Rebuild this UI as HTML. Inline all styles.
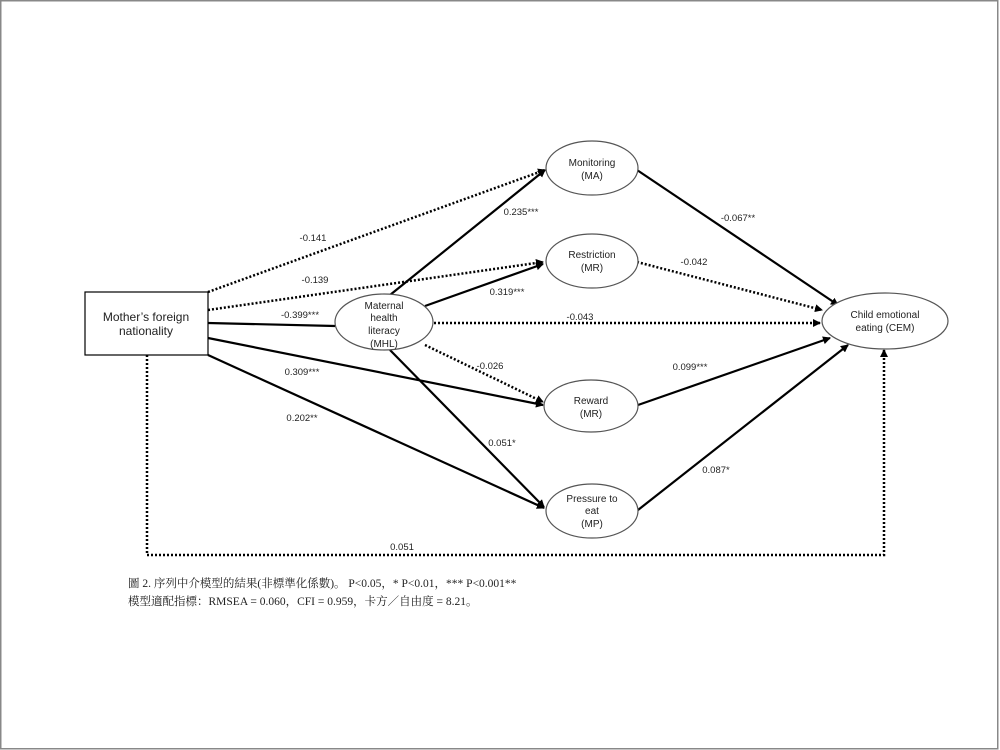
<!DOCTYPE html>
<html><head><meta charset="utf-8"><style>
html,body{margin:0;padding:0;background:#fff}
svg{display:block}
</style></head><body>
<svg width="1000" height="750" viewBox="0 0 1000 750" xmlns="http://www.w3.org/2000/svg" font-family="Liberation Sans, sans-serif">
<defs>
<marker id="a" markerWidth="8" markerHeight="8" refX="7" refY="4" orient="auto" markerUnits="userSpaceOnUse" viewBox="0 0 8 8"><path d="M0,0 L8,4 L0,8 z" fill="#000"/></marker>
</defs>
<rect x="0.75" y="0.75" width="997" height="748" fill="none" stroke="#888" stroke-width="1.5"/>
<g stroke="#000" stroke-width="2.2" fill="none">
<line x1="208" y1="323" x2="335" y2="326"/>
<line x1="208" y1="338" x2="543" y2="405" marker-end="url(#a)"/>
<line x1="208" y1="355" x2="544" y2="508" marker-end="url(#a)"/>
<line x1="390" y1="295" x2="545" y2="170" marker-end="url(#a)"/>
<line x1="425" y1="306" x2="543" y2="264" marker-end="url(#a)"/>
<line x1="390" y1="350" x2="544" y2="507" marker-end="url(#a)"/>
<line x1="637" y1="170" x2="838" y2="305" marker-end="url(#a)"/>
<line x1="638" y1="405" x2="830" y2="338" marker-end="url(#a)"/>
<line x1="638" y1="510" x2="848" y2="345" marker-end="url(#a)"/>
</g>
<g stroke="#000" stroke-width="2.5" fill="none" stroke-dasharray="2 2">
<line x1="208" y1="292" x2="545" y2="170" marker-end="url(#a)"/>
<line x1="208" y1="310" x2="543" y2="262" marker-end="url(#a)"/>
<line x1="434" y1="323" x2="820" y2="323" marker-end="url(#a)"/>
<line x1="425" y1="345" x2="543" y2="402" marker-end="url(#a)"/>
<line x1="637" y1="262" x2="822" y2="310" marker-end="url(#a)"/>
<polyline points="147,355 147,555 884,555 884,350" marker-end="url(#a)"/>
</g>
<g fill="#fff" stroke="#555" stroke-width="1.2">
<rect x="85" y="292" width="123" height="63" stroke="#000"/>
<ellipse cx="384" cy="322" rx="49" ry="28"/>
<ellipse cx="592" cy="168" rx="46" ry="27"/>
<ellipse cx="592" cy="261" rx="46" ry="27"/>
<ellipse cx="591" cy="406" rx="47" ry="26"/>
<ellipse cx="592" cy="511" rx="46" ry="27"/>
<ellipse cx="885" cy="321" rx="63" ry="28"/>
</g>
<g font-size="12" text-anchor="middle" fill="#222">
<text x="146" y="321">Mother’s foreign</text>
<text x="146" y="335">nationality</text>
<text x="384" y="309" font-size="10">Maternal</text>
<text x="384" y="321" font-size="10">health</text>
<text x="384" y="334" font-size="10">literacy</text>
<text x="384" y="347" font-size="10">(MHL)</text>
<g font-size="10">
<text x="592" y="166">Monitoring</text><text x="592" y="179">(MA)</text>
<text x="592" y="258">Restriction</text><text x="592" y="271">(MR)</text>
<text x="591" y="404">Reward</text><text x="591" y="417">(MR)</text>
<text x="592" y="502">Pressure to</text><text x="592" y="514">eat</text><text x="592" y="527">(MP)</text>
<text x="885" y="318">Child emotional</text><text x="885" y="331">eating (CEM)</text>
</g>
<g font-size="9.5">
<text x="313" y="241">-0.141</text>
<text x="315" y="283">-0.139</text>
<text x="300" y="318">-0.399***</text>
<text x="302" y="375">0.309***</text>
<text x="302" y="421">0.202**</text>
<text x="521" y="215">0.235***</text>
<text x="507" y="295">0.319***</text>
<text x="580" y="320">-0.043</text>
<text x="490" y="369">-0.026</text>
<text x="502" y="446">0.051*</text>
<text x="738" y="221">-0.067**</text>
<text x="694" y="265">-0.042</text>
<text x="690" y="370">0.099***</text>
<text x="716" y="473">0.087*</text>
<text x="402" y="550">0.051</text>
</g>
</g>
<g font-family="Liberation Serif, Noto Serif CJK SC, serif" font-size="11.5" fill="#222">
<text x="128" y="587">圖 2. 序列中介模型的結果(非標準化係數)。 P&lt;0.05，* P&lt;0.01，*** P&lt;0.001**</text>
<text x="128" y="605">模型適配指標：RMSEA = 0.060，CFI = 0.959，卡方／自由度 = 8.21。</text>
</g>
</svg>
</body></html>
